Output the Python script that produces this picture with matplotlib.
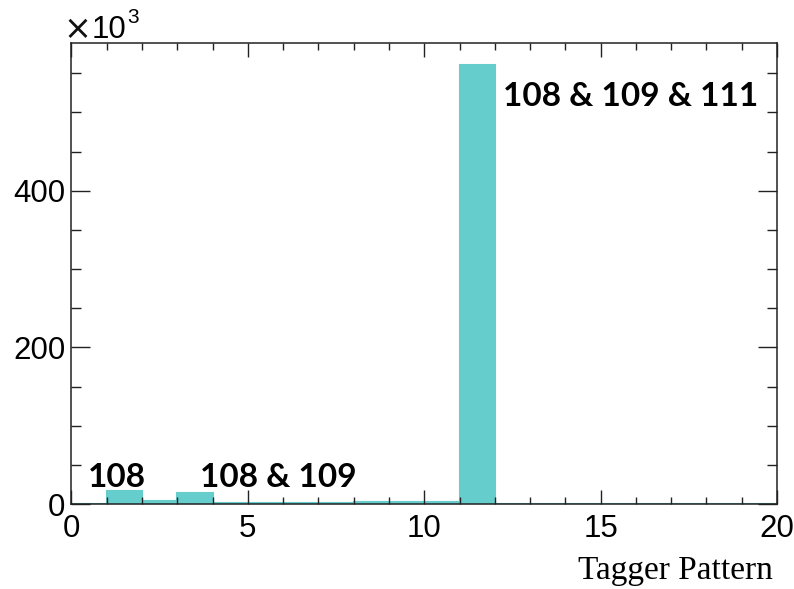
import numpy as np
import matplotlib
matplotlib.use("Agg")
import matplotlib.pyplot as plt
from matplotlib.ticker import MultipleLocator, FuncFormatter

# Tagger pattern histogram: 20 unit bins from 0 to 20
bin_edges = np.arange(0, 21, 1)
counts = [500, 17000, 3400, 13600, 800, 800, 800, 800, 2200, 2200,
          2200, 560500, 600, 600, 600, 600, 600, 600, 600, 600]

# Annotated tagger combinations: (text, x, y-baseline in counts)
annotations = [
    ("108", 0.47, 22000),
    ("108 & 109", 3.64, 22000),
    ("108 & 109 & 111", 12.22, 508000),
]

fill_color = "#66cdcd"
axis_color = "#222222"

fig = plt.figure(figsize=(7.94, 5.89), dpi=100)
ax = fig.add_axes([0.090, 0.1443, 0.8886, 0.7827])

ax.stairs(counts, bin_edges, fill=True, color=fill_color, linewidth=0)
ax.stairs(counts, bin_edges, color=fill_color, linewidth=1.5)

ax.set_xlim(0, 20)
ax.set_ylim(0, 1.05 * max(counts))

ax.xaxis.set_major_locator(MultipleLocator(5))
ax.xaxis.set_minor_locator(MultipleLocator(1))
ax.yaxis.set_major_locator(MultipleLocator(200000))
ax.yaxis.set_minor_locator(MultipleLocator(50000))
ax.yaxis.set_major_formatter(FuncFormatter(lambda v, p: f"{v/1000:.0f}"))

for s in ax.spines.values():
    s.set_color(axis_color)
    s.set_linewidth(1.1)

ax.tick_params(axis="both", which="both", direction="in", top=True, right=True,
               color=axis_color, width=1.0)
ax.tick_params(axis="x", which="major", length=10, pad=7)
ax.tick_params(axis="x", which="minor", length=5)
ax.tick_params(axis="y", which="major", length=14, pad=4.5)
ax.tick_params(axis="y", which="minor", length=7)

for lab in ax.get_xticklabels() + ax.get_yticklabels():
    lab.set_fontfamily("Liberation Sans")
    lab.set_fontsize(22.5)

for text, x, y in annotations:
    ax.text(x, y, text, fontfamily="Lato", fontweight="bold", fontsize=24,
            ha="left", va="baseline", color="black")

# Axis multiplier drawn as a large "×", then "10" with a raised exponent
fig.text(77 / 794, 1 - 30 / 589, "\u00d7", fontfamily="DejaVu Sans",
         fontsize=24, ha="center", va="center", color="#111111")
fig.text(92 / 794, 1 - 38 / 589, "10", fontfamily="Liberation Sans",
         fontsize=22.5, ha="left", va="baseline")
fig.text(127 / 794, 1 - 23 / 589, "3", fontfamily="Liberation Sans",
         fontsize=15, ha="left", va="baseline")
fig.text(773 / 794, 1 - 579 / 589, "Tagger Pattern", fontfamily="Liberation Serif",
         fontsize=24, ha="right", va="baseline")

fig.savefig("out.png", dpi=100)
